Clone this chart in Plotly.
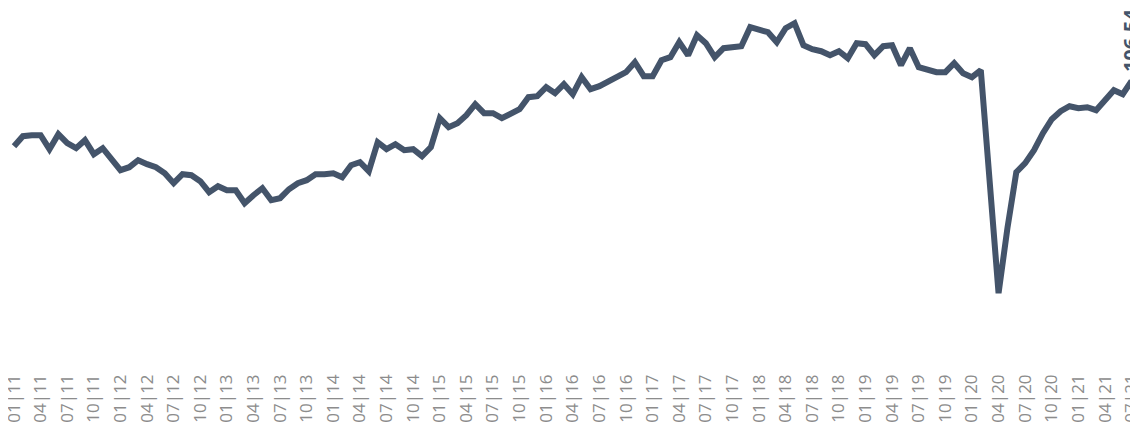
import plotly.graph_objects as go

years = list(range(11, 22))
months = []
for yy in years:
    for mm in range(1, 13):
        months.append(f"{mm:02d}|{yy:02d}")
months = months[:127]  # Jan 2011 .. Jul 2021

values = [
    93.5, 95.5, 95.7, 95.7, 92.9, 95.9, 94.1, 93.1, 94.7, 91.9, 93.1, 90.9,
    88.7, 89.3, 90.7, 89.9, 89.3, 88.1, 86.1, 87.9, 87.7, 86.5, 84.3, 85.5,
    84.7, 84.7, 82.1, 83.7, 85.1, 82.7, 83.1, 84.9, 86.1, 86.7, 87.9, 87.9,
    88.1, 87.3, 89.7, 90.3, 88.5, 94.3, 92.9, 93.9, 92.7, 92.9, 91.5, 93.3,
    99.1, 97.3, 98.1, 99.7, 101.9, 100.1, 100.1, 99.1, 99.9, 100.9, 103.3, 103.5,
    105.3, 104.1, 105.9, 103.9, 107.3, 104.9, 105.5, 106.5, 107.3, 108.3, 110.3, 107.5,
    107.5, 110.7, 111.3, 114.3, 111.7, 115.7, 114.1, 111.3, 113.1, 113.3, 113.5, 117.3,
    116.7, 116.3, 114.3, 117.1, 118.1, 113.7, 112.9, 112.5, 111.7, 112.5, 111.1, 114.1,
    113.9, 111.7, 113.5, 113.7, 109.7, 113.1, 109.3, 108.7, 108.3, 108.3, 110.1, 108.1,
    107.3, 108.7, 86.3, 64.1, 77.1, 88.3, 90.1, 92.7, 96.1, 98.9, 100.5, 101.5,
    101.1, 101.3, 100.7, 102.9, 104.7, 103.9, 106.54,
]

tick_idx = list(range(0, len(months), 3))
tick_text = [months[i] for i in tick_idx]

LINE = "#44546A"

fig = go.Figure()
fig.add_trace(go.Scatter(
    x=list(range(len(values))), y=values, mode="lines",
    line=dict(color=LINE, width=6),
    hoverinfo="skip", showlegend=False,
))

fig.add_annotation(
    x=len(values) - 1, y=values[-1], text=f"<b>{values[-1]:.2f}</b>",
    textangle=-90, showarrow=False, xanchor="center", yanchor="bottom",
    yshift=7, xshift=-1, font=dict(family="Open Sans", size=20, color=LINE),
)

# page body has an 8px margin, so the figure is made 8px smaller
fig.update_layout(
    width=1130, height=418,
    margin=dict(l=0, r=0, t=0, b=56, autoexpand=False),
    paper_bgcolor="white", plot_bgcolor="white",
    xaxis=dict(
        range=[-0.676, 126.72], tickmode="array", tickvals=tick_idx,
        ticktext=tick_text, tickangle=-90, showgrid=False, zeroline=False,
        showline=False, ticks="", automargin=False, ticklabeloverflow="allow",
        tickfont=dict(family="Open Sans", size=17, color="#8C8C8C"),
    ),
    yaxis=dict(range=[48.74, 121.14], visible=False, automargin=False),
)

fig.write_html("out.html")
